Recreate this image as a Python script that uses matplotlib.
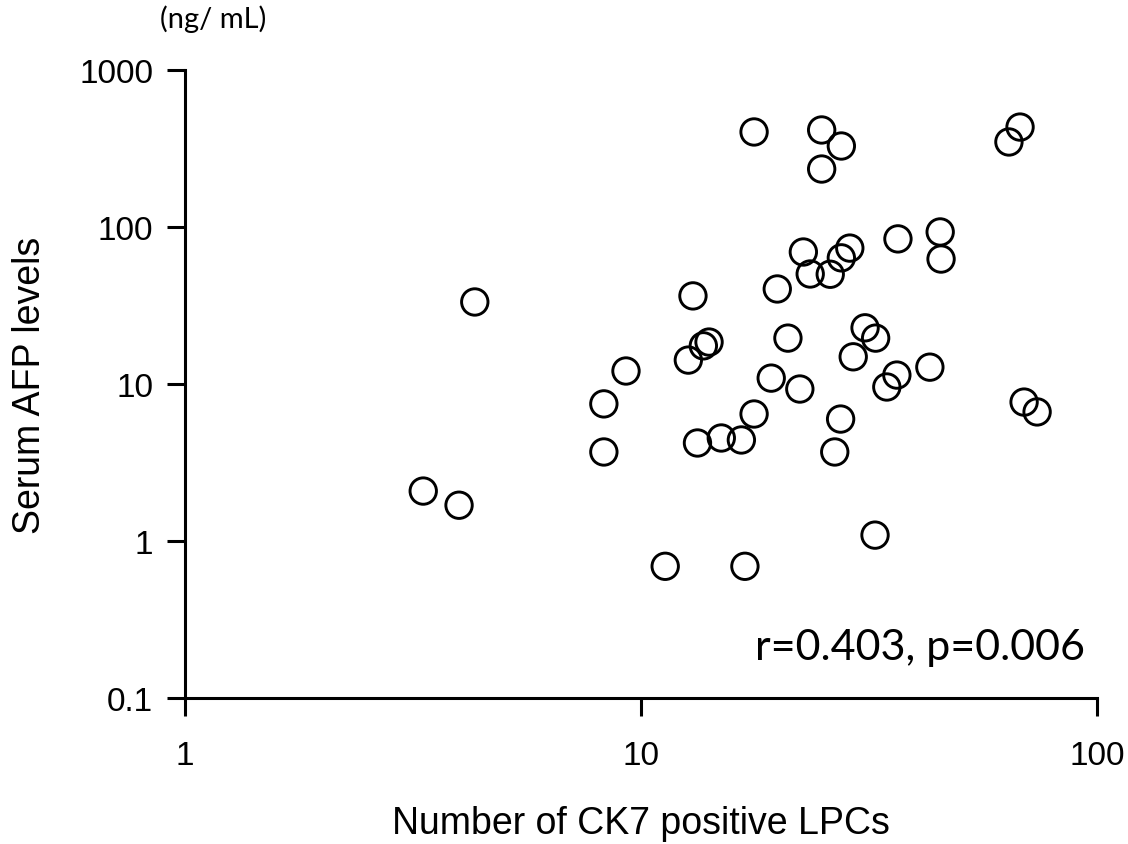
import matplotlib
matplotlib.use("Agg")
import matplotlib.pyplot as plt
from matplotlib.ticker import FixedLocator, NullLocator

ck7_lpcs = [4.32, 3.33, 3.99, 8.29, 8.29, 9.27, 11.3, 13.0, 12.7, 13.3, 13.7, 14.1,
            15.0, 16.6, 16.9, 17.7, 17.7, 19.3, 19.9, 21.0, 22.3, 22.7, 23.5, 24.9,
            24.9, 26.0, 26.6, 27.4, 27.5, 27.5, 28.7, 29.2, 31.0, 32.6, 32.7, 34.6,
            36.4, 36.6, 43.0, 45.3, 45.5, 64.1, 67.8, 69.2, 73.9]
afp_levels = [33.3, 2.08, 1.69, 7.47, 3.69, 12.1, 0.69, 36.4, 14.2, 4.21, 17.5, 18.5,
              4.53, 4.40, 0.69, 403, 6.44, 10.9, 40.3, 19.6, 9.29, 69.3, 50.2, 415,
              234, 50.0, 3.69, 5.98, 63.6, 328, 73.4, 14.9, 22.8, 1.09, 19.6, 9.57,
              11.4, 84.0, 12.8, 93.0, 62.5, 348, 433, 7.67, 6.64]

x_ticks = [1, 10, 100]
x_tick_labels = ["1", "10", "100"]
y_ticks = [0.1, 1, 10, 100, 1000]
y_tick_labels = ["0.1", "1", "10", "100", "1000"]

fig = plt.figure(figsize=(11.28, 8.45), dpi=100)
ax = fig.add_axes([185/1128, 1-699/845, 912/1128, 628/845])

ax.scatter(ck7_lpcs, afp_levels, s=19**2, facecolors="none", edgecolors="black",
           linewidths=2.1, zorder=3, clip_on=False)

ax.set_xscale("log")
ax.set_yscale("log")
ax.set_xlim(1, 100)
ax.set_ylim(0.1, 1000)
ax.xaxis.set_major_locator(FixedLocator(x_ticks))
ax.yaxis.set_major_locator(FixedLocator(y_ticks))
ax.xaxis.set_minor_locator(NullLocator())
ax.yaxis.set_minor_locator(NullLocator())
ax.set_xticklabels(x_tick_labels, family="Liberation Sans", fontsize=24)
ax.set_yticklabels(y_tick_labels, family="Liberation Sans", fontsize=24)

for s in ["top", "right"]:
    ax.spines[s].set_visible(False)
for s in ["left", "bottom"]:
    ax.spines[s].set_linewidth(2.2)
ax.tick_params(axis="both", which="major", direction="out", length=13, width=2.2,
               colors="black")
ax.tick_params(axis="x", pad=17)
ax.tick_params(axis="y", pad=10)

ax.set_xlabel("Number of CK7 positive LPCs", family="Liberation Sans", fontsize=27,
              labelpad=25)
ax.set_ylabel("Serum AFP levels", family="Liberation Sans", fontsize=27, labelpad=22)

fig.text(160/1128, 1-28/845, "(ng/ mL)", family="Lato", fontsize=21, ha="left",
         va="baseline")
ax.text(1085/1128, 1-660/845, "r=0.403, p=0.006", transform=fig.transFigure,
        family="Lato", fontsize=31, ha="right", va="baseline")

fig.savefig("out.png", dpi=100, facecolor="white")
